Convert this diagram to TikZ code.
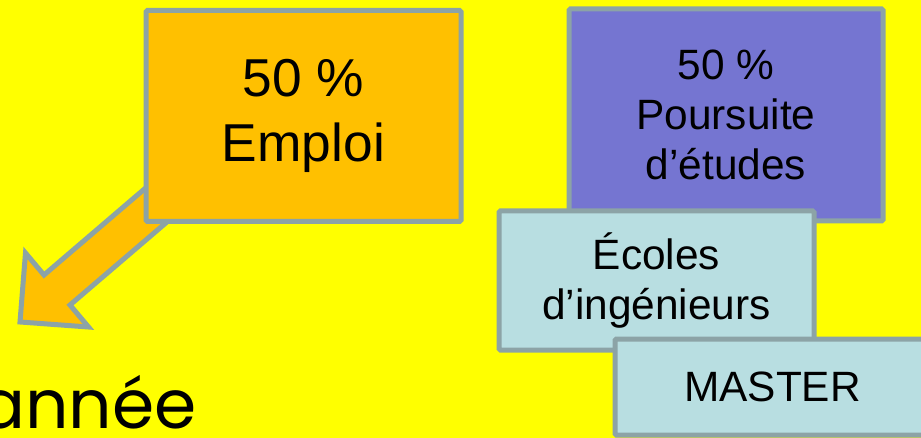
\documentclass[tikz,border=0pt]{standalone}
\usepackage{fontspec}
\setmainfont{Liberation Sans}
\newfontfamily\titlefont{Poppins}
\usepackage{xcolor}
\definecolor{slidebg}{RGB}{255, 255, 0}
\definecolor{emploiorange}{RGB}{255, 192, 0}
\definecolor{etudespurple}{RGB}{117, 117, 209}
\definecolor{ecolecyan}{RGB}{184, 222, 225}
\definecolor{edgegray}{RGB}{140, 163, 166}

\begin{document}
\begin{tikzpicture}[
    x=0.75pt, y=-0.75pt,
    box/.style={rectangle, draw=edgegray, rounded corners=1pt, line width=3.75pt, minimum width=236.25pt, align=center, inner sep=0pt},
    bigtext/.style={font=\fontsize{40}{49}\selectfont},
    smalltext/.style={font=\fontsize{31.8}{37.5}\selectfont},
    blockarrow/.style={draw=edgegray, fill=emploiorange, line width=3.75pt, line join=miter},
]

% Background
\fill[slidebg] (0,0) rectangle (921,438);
\useasboundingbox (0,0) rectangle (921,438);

% Arrow out of the Emploi box (tail hidden under it)
\draw[blockarrow] (211,132) -- (44,275) -- (25.5,253) -- (20,322) -- (88.5,327) -- (70,305) -- (237,162) -- cycle;

% Emploi
\node[box, fill=emploiorange, minimum height=158.25pt, bigtext] (emploi) at (303.5,116) {50 \%\\Emploi};

% Poursuite d'etudes
\node[box, fill=etudespurple, minimum width=235.5pt, minimum height=159pt, smalltext] (etudes) at (726,115) {50 \%\\Poursuite\\d’études};

% Ecoles
\node[box, fill=ecolecyan, minimum height=104.25pt, smalltext] (ecoles) at (656.5,280.5) {Écoles\\d’ingénieurs};

% Master
\node[box, fill=ecolecyan, minimum height=72pt, smalltext] (master) at (772.5,387) {MASTER};

% Title fragment
\node[anchor=base east, inner sep=0pt, font=\titlefont\fontsize{51}{51}\selectfont] (annee) at (197,428) {année};

\end{tikzpicture}
\end{document}
